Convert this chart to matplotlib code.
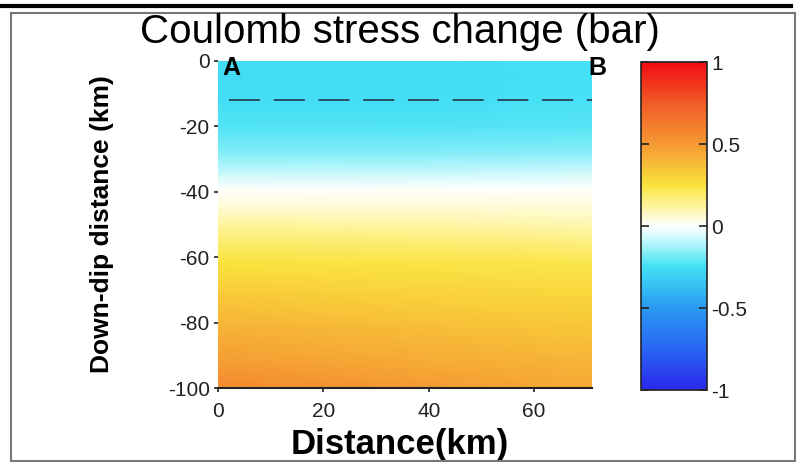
import matplotlib.pyplot as plt
import numpy as np
from matplotlib.colors import LinearSegmentedColormap
from matplotlib.patches import Rectangle
from matplotlib.lines import Line2D

plt.rcParams['font.family'] = ['Liberation Sans', 'DejaVu Sans']
plt.rcParams['axes.unicode_minus'] = False

# Coulomb stress change (bar) sampled along the fault plane
distance = [0, 36, 71]
depth = [0, -10, -20, -28, -34, -39, -44, -50, -56, -62, -72, -82, -92, -100]
stress = [
    [-0.26, -0.26, -0.25],
    [-0.26, -0.26, -0.25],
    [-0.23, -0.23, -0.22],
    [-0.17, -0.17, -0.16],
    [-0.08, -0.08, -0.07],
    [0.00, 0.00, 0.00],
    [0.04, 0.04, 0.04],
    [0.12, 0.11, 0.10],
    [0.19, 0.18, 0.17],
    [0.25, 0.24, 0.23],
    [0.34, 0.31, 0.29],
    [0.42, 0.38, 0.35],
    [0.49, 0.44, 0.40],
    [0.56, 0.50, 0.44],
]

# dashed line (upper edge of rupture)
dash_x = [2, 71]
dash_depth = [-12, -12]

x_ticks = [0, 20, 40, 60]
y_ticks = [0, -20, -40, -60, -80, -100]
cb_ticks = [-1, -0.5, 0, 0.5, 1]
cb_labels = ['-1', '-0.5', '0', '0.5', '1']

# blue - cyan - white - yellow - red colour scale
cmap = LinearSegmentedColormap.from_list('coulomb', [
    (0.00, (0.16, 0.16, 0.93)),
    (0.125, (0.16, 0.40, 0.95)),
    (0.25, (0.16, 0.60, 0.95)),
    (0.375, (0.26, 0.88, 0.96)),
    (0.44, (0.66, 0.96, 0.98)),
    (0.50, (1.00, 1.00, 1.00)),
    (0.56, (1.00, 0.96, 0.62)),
    (0.625, (0.98, 0.89, 0.24)),
    (0.75, (0.96, 0.60, 0.20)),
    (0.875, (0.95, 0.36, 0.15)),
    (1.00, (0.94, 0.04, 0.08)),
])

fig = plt.figure(figsize=(8, 4.63), dpi=100)

# outer frame
fig.add_artist(Rectangle((11 / 800, 1 - 461 / 463), 784 / 800, 448 / 463,
                         transform=fig.transFigure, fill=False,
                         edgecolor='#777777', linewidth=1.5))
fig.add_artist(Line2D([0, 791 / 800], [1 - 6 / 463, 1 - 6 / 463],
                      transform=fig.transFigure, color='black', linewidth=3))

ax = fig.add_axes([218 / 800, 1 - 388 / 463, 374 / 800, 327 / 463])
X, Y = np.meshgrid(distance, depth)
mesh = ax.pcolormesh(X, Y, np.array(stress), cmap=cmap, vmin=-1, vmax=1,
                     shading='gouraud')
ax.plot(dash_x, dash_depth, color='#2a4e66', linewidth=1.4,
        linestyle=(0, (16, 7)))
ax.set_xlim(0, 71)
ax.set_ylim(-100, 0)
ax.set_xticks(x_ticks)
ax.set_yticks(y_ticks)
ax.tick_params(labelsize=15, length=3, width=1.2, colors='#222222')
ax.tick_params(axis='x', pad=7)
ax.tick_params(axis='y', pad=3)
for s in ['top', 'right', 'left']:
    ax.spines[s].set_visible(False)
ax.spines['bottom'].set_linewidth(1.5)
ax.spines['bottom'].set_color('#222222')

ax.text(0.8, -2.0, 'A', fontsize=18, fontweight='bold', ha='left', va='center')
ax.text(72, -2.0, 'B', fontsize=18, fontweight='bold', ha='center', va='center',
        clip_on=False)

ax.set_xlabel('Distance(km)', fontsize=25, fontweight='bold')
ax.xaxis.set_label_coords((400 - 218) / 374, -0.122)
ax.set_ylabel('Down-dip distance (km)', fontsize=19, fontweight='bold')
ax.yaxis.set_label_coords((114 - 218) / 374, 0.5)

fig.text(0.5, 1 - 43 / 463, 'Coulomb stress change (bar)', fontsize=29,
         ha='center', va='baseline')

cax = fig.add_axes([641 / 800, 1 - 390 / 463, 66 / 800, 328 / 463])
cb = fig.colorbar(mesh, cax=cax, ticks=cb_ticks)
cb.set_ticklabels(cb_labels)
cb.outline.set_linewidth(1.2)
cb.outline.set_edgecolor('#222222')
cax.tick_params(labelsize=15, direction='in', length=6, width=1.2,
                left=True, right=True, colors='#222222', pad=3)

fig.savefig('out.png', dpi=100)
